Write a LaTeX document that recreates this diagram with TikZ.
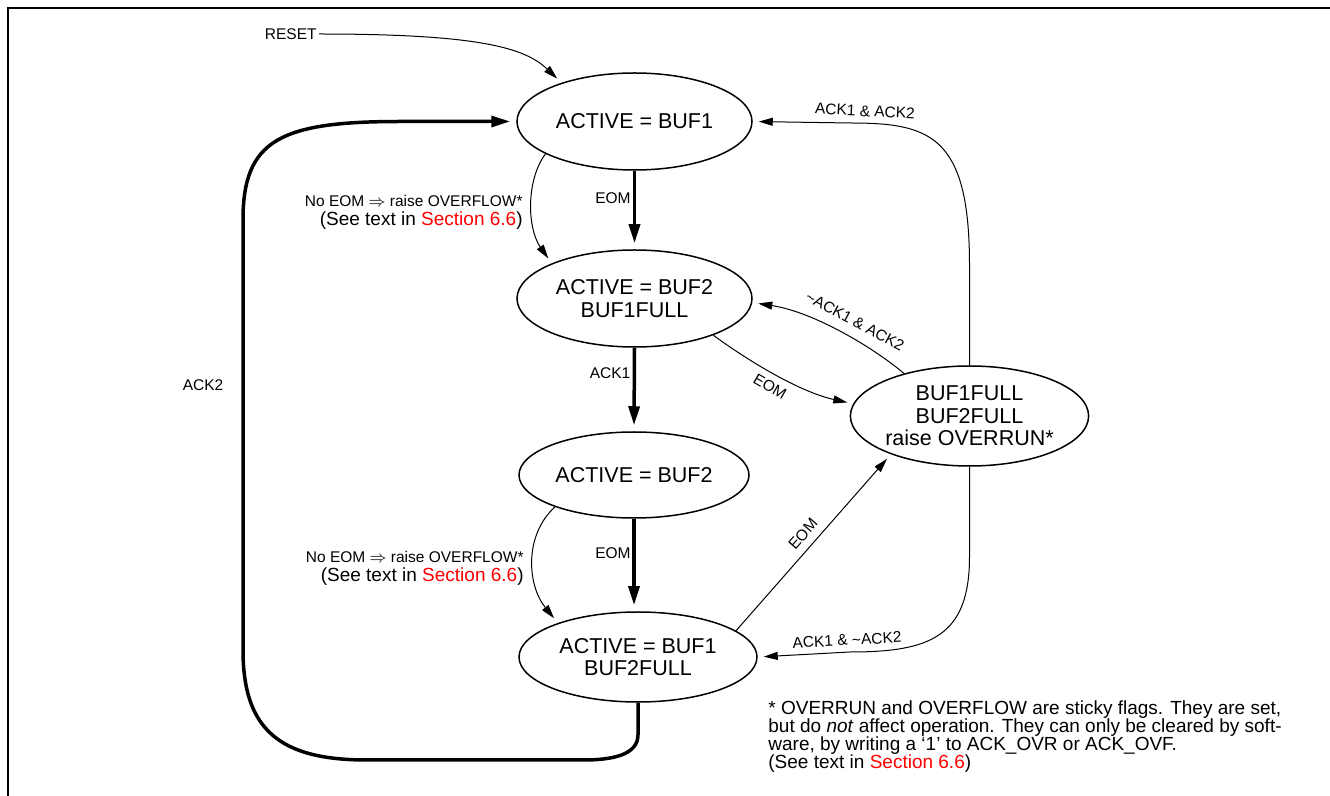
\documentclass[tikz,border=0pt]{standalone}
\usepackage{fontspec}
\setmainfont{Liberation Sans}
\usetikzlibrary{arrows.meta, shapes.geometric}
\tikzset{
  state/.style={ellipse, draw, line width=0.75pt, inner sep=0pt, align=center,
                font=\fontsize{10.75}{11.25}\selectfont},
  lbl/.style={inner sep=1pt, font=\fontsize{7.75}{9.5}\selectfont},
  arrowT/.style={-{Triangle[length=7pt, width=4pt]}, line width=0.5pt, shorten >=3pt},
  arrowK/.style={-{Triangle[length=9.5pt, width=5.5pt]}, line width=1.75pt, shorten >=3pt},
}
\newcommand{\secref}{\textcolor{red}{Section 6.6}}
\begin{document}
\begin{tikzpicture}[x=0.5pt, y=-0.5pt]
  \useasboundingbox (0,0) rectangle (1330,796);
  \draw[line width=0.75pt] (8,796) -- (8,8) -- (1330,8);

  % states
  \node[state, minimum width=117.5pt, minimum height=48.5pt] (act1) at (634.5,121.5) {ACTIVE = BUF1};
  \node[state, minimum width=117.5pt, minimum height=48.5pt] (act2full) at (634.5,298.5) {ACTIVE = BUF2\\BUF1FULL};
  \node[state, minimum width=115pt, minimum height=43pt] (act2) at (634,475) {ACTIVE = BUF2};
  \node[state, minimum width=119pt, minimum height=45pt] (act1full) at (638,657) {ACTIVE = BUF1\\BUF2FULL};
  \node[state, minimum width=117.5pt, minimum height=50pt] (both) at (969.5,416) {BUF1FULL\\BUF2FULL\\raise OVERRUN*};

  % reset
  \node[lbl, anchor=east] (reset) at (319,34) {RESET};
  \draw[arrowT] (reset.east) .. controls (480,34) and (525,48) .. (act1.152);

  % main column
  \draw[arrowK] (act1.south) -- (act2full.north);
  \node[lbl] (eom1) at (613,198) {EOM};
  \draw[arrowK] (act2full.south) -- (act2.north);
  \node[lbl] (ack1) at (610,373) {ACK1};
  \draw[arrowK] (act2.south) -- (act2.south |- act1full.north);
  \node[lbl] (eom2) at (613,553) {EOM};

  % overflow
  \draw[arrowT] (act1.200) .. controls (526,180) and (527,228) .. (act2full.157);
  \node[lbl, anchor=east, align=right] (ovf1) at (525,212)
    {No EOM $\Rightarrow$ raise OVERFLOW*\\{\fontsize{9.5}{9.5}\selectfont(See text in \secref)}};
  \draw[arrowT] (act2.202) .. controls (524,535) and (527,585) .. (act1full.157);
  \node[lbl, anchor=east, align=right] (ovf2) at (526,568)
    {No EOM $\Rightarrow$ raise OVERFLOW*\\{\fontsize{9.5}{9.5}\selectfont(See text in \secref)}};

  % overrun
  \draw[arrowT] (act2full.-25) .. controls (750,362) and (800,392) .. (both.174);
  \node[lbl, rotate=-30] (eom3) at (770,387) {EOM};
  \draw[arrowT] (both.147) .. controls (874,348) and (814,312) .. (act2full.-2);
  \node[lbl, rotate=-28] (nack1) at (855,321) {\textasciitilde ACK1 \& ACK2};
  \draw[arrowT] (act1full.15) -- (both.206);
  \node[lbl, rotate=49] (eom4) at (803,534) {EOM};

  % acknowledge
  \draw[arrowT] (both.north) -- ++(0,-100) .. controls +(0,-130) and +(80,0) .. (850,123)
    -- (act1.east);
  \node[lbl, rotate=-3] (ackb) at (865,111) {ACK1 \& ACK2};
  \draw[arrowT] (both.south) -- ++(0,90) .. controls +(0,80) and +(80,0) .. (850,652)
    -- (act1full.east);
  \node[lbl, rotate=3] (nack2) at (847,640) {ACK1 \& \textasciitilde ACK2};
  \draw[arrowK] (act1full.south) -- ++(0,32) .. controls +(0,20) and +(30,0) .. (583,760)
    -- (367,760) .. controls (280,760) and (243,730) .. (243,650)
    -- (243,220) .. controls (243,140) and (280,121.5) .. (400,121.5) -- (act1.west);
  \node[lbl] (ack2) at (203,385) {ACK2};

  % footnote
  \node[anchor=north west, align=left, inner sep=0pt, font=\fontsize{9.5}{9}\selectfont] (note) at (768,700)
    {* OVERRUN and OVERFLOW are sticky flags. They are set,\\
     but do \textit{not} affect operation. They can only be cleared by soft-\\
     ware, by writing a `1' to ACK\_OVR or ACK\_OVF.\\
     (See text in \secref)};
\end{tikzpicture}
\end{document}
